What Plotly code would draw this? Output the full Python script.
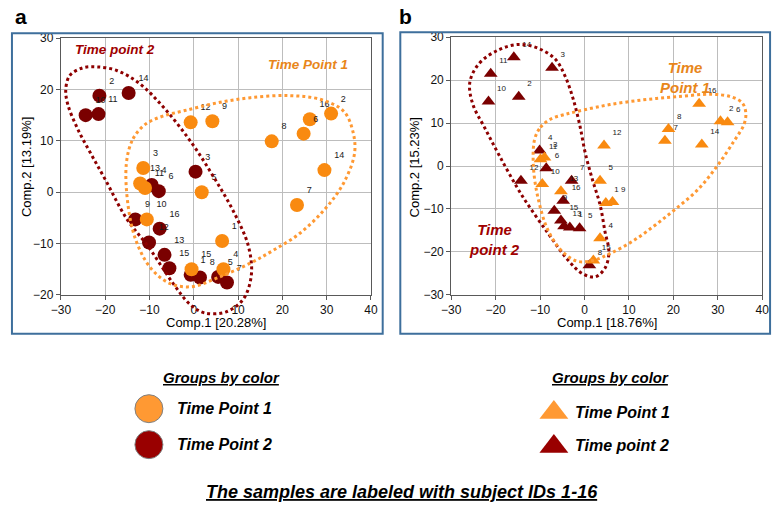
import plotly.graph_objects as go

W, H = 780, 511

# ---------------- data ----------------
ids = list(range(1, 17))

# Panel a (circles): PCA scores, Comp.1 / Comp.2, subject IDs 1..16
a_tp1_x = [6.4, 31.0, -11.4, 6.7, 1.8, 24.8, 23.3, 17.6, 4.2, -10.6, -11.0, -0.7, -12.1, 29.5, -0.5, 26.2]
a_tp1_y = [-9.5, 15.3, 4.7, -15.0, 0.0, 11.4, -2.5, 9.9, 13.8, -5.3, 0.8, 13.6, 1.7, 4.3, -15.0, 14.2]
a_tp2_x = [-0.7, -21.3, 0.4, -9.5, 5.5, -7.9, 7.5, 1.4, -13.2, -24.4, -21.5, -10.1, -6.6, -14.7, -5.5, -7.7]
a_tp2_y = [-16.1, 18.8, 4.0, 1.4, -16.5, 0.2, -17.6, -16.6, -5.3, 15.0, 15.2, -9.8, -12.2, 19.3, -14.8, -7.1]

# Panel b (triangles)
b_tp1_x = [4.8, 30.6, -9.0, 3.5, 3.5, 32.2, 18.1, 18.9, 6.3, -9.5, -9.9, 4.4, -5.3, 26.4, 2.0, 25.8]
b_tp1_y = [-8.6, 10.4, 2.0, -16.8, -3.4, 10.2, 5.9, 8.6, -8.4, -4.2, 1.6, 4.8, -5.9, 5.0, -22.0, 14.5]
b_tp2_x = [-3.3, -14.8, -7.3, -10.1, -1.1, -8.6, -2.9, 1.1, -6.8, -21.6, -21.1, -14.3, -4.6, -15.9, -5.3, -4.8]
b_tp2_y = [-14.3, 16.1, 22.9, 3.6, -14.5, -0.5, -3.4, -23.1, -10.4, 15.0, 21.5, -3.4, -14.0, 25.3, -12.7, -8.1]

x_ticks = [-30, -20, -10, 0, 10, 20, 30, 40]
a_y_ticks = [-20, -10, 0, 10, 20, 30]
b_y_ticks = [-30, -20, -10, 0, 10, 20, 30]

# Hand-drawn group outlines (data coordinates of each panel)
a_out_tp2 = [(-28.9, 19.9), (-28.0, 22.7), (-25.1, 24.2), (-21.8, 24.4), (-17.4, 23.7), (-12.3, 21.2),
             (-6.4, 16.1), (-0.4, 9.5), (4.6, 2.8), (9.0, -3.8), (12.3, -10.4), (13.0, -16.1),
             (11.2, -20.8), (7.3, -23.3), (2.4, -23.5), (-0.9, -21.8), (-4.8, -17.6), (-10.1, -10.8),
             (-15.2, -5.1), (-20.0, 2.5), (-23.3, 7.6), (-26.2, 12.3), (-28.4, 17.0)]
a_out_tp1 = [(-15.2, 5.7), (-13.7, 10.4), (-10.8, 13.3), (-7.0, 14.8), (-2.0, 15.9), (5.3, 17.4),
             (12.8, 18.4), (21.6, 18.8), (28.9, 18.0), (33.9, 15.7), (35.9, 11.9), (36.3, 7.6),
             (33.9, 1.9), (29.5, -3.4), (23.8, -8.1), (17.8, -11.4), (12.8, -13.8), (5.3, -16.7),
             (-0.4, -18.4), (-5.3, -17.8), (-9.7, -14.8), (-13.0, -9.5), (-14.8, -2.8)]
b_out_tp2 = [(-25.8, 19.5), (-23.6, 24.0), (-19.2, 27.1), (-14.8, 28.3), (-10.4, 27.4), (-6.6, 24.9),
             (-4.4, 21.0), (-2.6, 15.8), (-1.1, 9.7), (0.2, 2.9), (1.8, -3.2), (3.5, -9.0),
             (4.6, -15.2), (5.5, -20.1), (4.6, -23.8), (2.4, -25.8), (-0.4, -25.1), (-3.7, -21.9),
             (-8.1, -15.8), (-14.1, -6.8), (-19.2, 2.5), (-22.5, 9.0), (-25.1, 14.3)]
b_out_tp1 = [(-11.2, 6.3), (-9.9, 9.0), (-7.7, 10.9), (-4.4, 12.0), (0.0, 13.1), (5.7, 14.3),
             (13.2, 15.4), (20.5, 16.1), (28.6, 16.7), (33.0, 16.1), (35.5, 14.7), (36.3, 12.4),
             (35.9, 9.7), (33.7, 5.9), (30.0, 0.2), (25.6, -5.4), (20.5, -10.0), (16.1, -13.6),
             (11.0, -17.4), (5.7, -20.4), (2.2, -21.9), (-1.5, -22.2), (-4.8, -20.1), (-8.1, -15.2),
             (-10.4, -7.7), (-11.5, 0.0)]

# ---------------- styles ----------------
ORANGE = "#F98A10"
DARK = "#7A0000"
ORANGE_LEG = "#FF9933"
DARK_LEG = "#990000"
OUT_ORANGE = "#FF9933"
OUT_DARK = "#8E0000"
FRAME = "#3E6F9C"
FONT = "Liberation Sans, Arial, sans-serif"

# plot areas in figure pixels
A_PX = dict(x0=52, x1=369, y0=32, y1=296, xr=(-30, 40), yr=(-20, 30))
B_PX = dict(x0=451, x1=769, y0=31, y1=296, xr=(-30, 40), yr=(-30, 30))


def dom(p):
    return [p["x0"] / W, p["x1"] / W], [1 - p["y1"] / H, 1 - p["y0"] / H]


def to_px(p, pts):
    xs, ys = [], []
    for x, y in pts + [pts[0]]:
        xs.append(p["x0"] + (x - p["xr"][0]) / (p["xr"][1] - p["xr"][0]) * (p["x1"] - p["x0"]))
        ys.append(p["y1"] - (y - p["yr"][0]) / (p["yr"][1] - p["yr"][0]) * (p["y1"] - p["y0"]))
    return xs, ys


fig = go.Figure()


def pts_trace(x, y, color, symbol, size, xa, ya, tsize=9):
    return go.Scatter(
        x=x, y=y, mode="markers+text", text=[str(i) for i in ids],
        textposition="top right", textfont=dict(size=tsize, color="#1a1a1a", family=FONT),
        marker=dict(color=color, symbol=symbol, size=size, line=dict(width=0)),
        xaxis=xa, yaxis=ya, cliponaxis=False, showlegend=False, hoverinfo="skip")


fig.add_trace(pts_trace(a_tp2_x, a_tp2_y, DARK, "circle", 14, "x", "y"))
fig.add_trace(pts_trace(a_tp1_x, a_tp1_y, ORANGE, "circle", 14, "x", "y"))
fig.add_trace(pts_trace(b_tp2_x, b_tp2_y, DARK, "triangle-up", 12, "x2", "y2", 8))
fig.add_trace(pts_trace(b_tp1_x, b_tp1_y, ORANGE, "triangle-up", 12, "x2", "y2", 8))

# outlines on a full-figure overlay (so they may run past the axes, as in the original)
for p, pts, col in [(A_PX, a_out_tp2, OUT_DARK), (A_PX, a_out_tp1, OUT_ORANGE),
                    (B_PX, b_out_tp2, OUT_DARK), (B_PX, b_out_tp1, OUT_ORANGE)]:
    xs, ys = to_px(p, pts)
    fig.add_trace(go.Scatter(x=xs, y=ys, mode="lines", xaxis="x3", yaxis="y3",
                             line=dict(color=col, width=3, dash="dot", shape="spline", smoothing=1.0),
                             showlegend=False, hoverinfo="skip"))

# custom legend keys
fig.add_trace(go.Scatter(x=[142, 142], y=[413, 450], mode="markers", xaxis="x3", yaxis="y3",
                         marker=dict(size=28, color=[ORANGE_LEG, DARK_LEG], line=dict(color="#808080", width=1)),
                         showlegend=False, hoverinfo="skip"))
fig.add_trace(go.Scatter(x=[556, 556], y=[417, 452], mode="markers", xaxis="x3", yaxis="y3",
                         marker=dict(size=25, symbol="triangle-up", color=[ORANGE_LEG, DARK_LEG], line=dict(width=0)),
                         showlegend=False, hoverinfo="skip"))

axis_common = dict(showgrid=True, gridcolor="#BDBDBD", gridwidth=1, zeroline=False,
                   showline=True, linecolor="#595959", linewidth=1, mirror=True,
                   ticks="outside", ticklen=4, tickcolor="#595959",
                   tickfont=dict(size=12, color="#111", family=FONT), fixedrange=True)

ax_dom, ay_dom = dom(A_PX)
bx_dom, by_dom = dom(B_PX)

fig.update_layout(
    width=W, height=H, margin=dict(l=0, r=0, t=0, b=0),
    paper_bgcolor="white", plot_bgcolor="rgba(0,0,0,0)",
    font=dict(family=FONT),
    xaxis=dict(domain=ax_dom, range=list(A_PX["xr"]), tickvals=x_ticks, anchor="y", **axis_common),
    yaxis=dict(domain=ay_dom, range=list(A_PX["yr"]), tickvals=a_y_ticks, anchor="x", **axis_common),
    xaxis2=dict(domain=bx_dom, range=list(B_PX["xr"]), tickvals=x_ticks, anchor="y2", **axis_common),
    yaxis2=dict(domain=by_dom, range=list(B_PX["yr"]), tickvals=b_y_ticks, anchor="x2", **axis_common),
    xaxis3=dict(domain=[0, 1], range=[0, W], visible=False, anchor="y3", fixedrange=True),
    yaxis3=dict(domain=[0, 1], range=[H, 0], visible=False, anchor="x3", fixedrange=True),
)

FB = 336  # frame bottom
fig.add_shape(type="rect", xref="paper", yref="paper", x0=2 / W, x1=381 / W, y0=1 - FB / H, y1=1 - 27 / H,
              line=dict(color=FRAME, width=2))
fig.add_shape(type="rect", xref="paper", yref="paper", x0=399 / W, x1=777 / W, y0=1 - FB / H, y1=1 - 26 / H,
              line=dict(color=FRAME, width=2))


def ann(text, x, y, size, color="#000", xanchor="center", textangle=0):
    fig.add_annotation(text=text, x=x / W, y=1 - y / H, xref="paper", yref="paper", showarrow=False,
                       xanchor=xanchor, yanchor="middle", textangle=textangle,
                       font=dict(size=size, color=color, family=FONT))


ann("<b>a</b>", 11, 10, 21)
ann("<b>b</b>", 404, 10, 21)
ann("Comp.1 [20.28%]", 211, 324, 13)
ann("Comp.1 [18.76%]", 610, 324, 13)
ann("Comp.2 [13.19%]", 17, 165, 13, textangle=-90)
ann("Comp.2 [15.23%]", 413, 165, 13, textangle=-90)

ann("<b><i>Time point 2</i></b>", 107, 44, 13.5, "#A00000")
ann("<b><i>Time Point 1</i></b>", 305, 59, 13.5, "#E8861A")
ann("<b><i>Time<br>Point 1</i></b>", 690, 73, 15, "#E8861A")
ann("<b><i>Time<br>point 2</i></b>", 495, 239, 15, "#A00000")

ann("<b><i><u>Groups by color</u></i></b>", 216, 381, 15)
ann("<b><i><u>Groups by color</u></i></b>", 614, 381, 15)
ann("<b><i>Time Point 1</i></b>", 169, 413, 16, xanchor="left")
ann("<b><i>Time Point 2</i></b>", 169, 450, 16, xanchor="left")
ann("<b><i>Time Point 1</i></b>", 576, 417, 16, xanchor="left")
ann("<b><i>Time point 2</i></b>", 576, 451, 16, xanchor="left")
ann("<b><i><u>The samples are labeled with subject IDs 1-16</u></i></b>", 401, 499, 18)

fig.write_html("out.html", config={"displayModeBar": False},
               post_script="document.body.style.margin='0px';document.body.style.overflow='hidden';")
